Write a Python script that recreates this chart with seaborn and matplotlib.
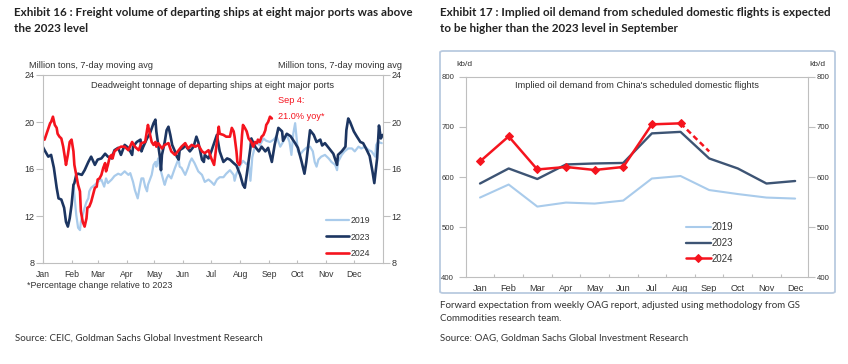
import matplotlib
matplotlib.use("Agg")
import matplotlib.pyplot as plt
import seaborn as sns
import pandas as pd
from matplotlib.patches import FancyBboxPatch

sns.set_theme(style="white")
plt.rcParams['font.family'] = ['Liberation Sans', 'DejaVu Sans']

# ---------------- Exhibit 16 data (day of year, million tons) ----------------
days_2019 = [33, 34, 36, 38, 40, 41, 43, 45, 47, 49, 50, 52, 56, 59, 63, 66, 68, 70, 74, 77,
             81, 84, 88, 92, 94, 97, 99, 102, 104, 106, 108, 110, 112, 113, 117, 119, 121, 122,
             124, 126, 128, 130, 131, 133, 135, 138, 142, 144, 146, 147, 149, 153, 156, 158,
             160, 163, 167, 171, 174, 178, 181, 184, 187, 190, 194, 197, 201, 205, 206, 208,
             212, 215, 219, 221, 223, 225, 228, 230, 233, 237, 240, 244, 248, 251, 255, 258,
             262, 265, 267, 269, 271, 273, 274, 276, 280, 283, 287, 290, 292, 294, 296, 299,
             303, 307, 310, 314, 316, 317, 321, 324, 328, 332, 335, 339, 342, 346, 350, 353,
             357, 358, 360, 364]
vals_2019 = [14.65, 13.8, 12.1, 11.0, 10.8, 11.5, 12.1, 12.7, 13.2, 13.5, 14.1, 14.4, 14.65,
             14.9, 15.1, 14.5, 15.2, 14.8, 15.1, 15.4, 15.6, 15.5, 15.8, 15.5, 15.65, 14.9,
             14.2, 13.5, 14.4, 15.2, 15.2, 14.5, 14.1, 14.65, 15.5, 16.35, 16.6, 16.2, 16.9,
             16.1, 15.5, 14.9, 14.65, 15.2, 15.5, 15.2, 16.1, 16.5, 16.9, 16.2, 16.1, 15.5,
             16.1, 16.6, 16.9, 16.5, 15.8, 15.5, 14.9, 15.1, 14.9, 14.65, 15.1, 15.3, 15.3,
             15.6, 15.9, 15.5, 15.0, 15.6, 16.3, 16.7, 16.4, 16.6, 15.0, 17.0, 18.0, 18.3,
             18.0, 18.6, 18.4, 18.3, 18.5, 18.8, 17.9, 18.3, 18.9, 18.3, 17.2, 19.0, 19.9,
             18.3, 17.5, 17.2, 17.6, 17.8, 17.9, 17.5, 16.6, 16.2, 16.8, 17.05, 17.2, 16.9,
             16.6, 16.35, 15.9, 16.6, 17.2, 17.5, 17.75, 17.75, 17.5, 17.9, 17.75, 17.9,
             17.6, 17.5, 17.05, 18.05, 18.3, 18.2]

days_2023 = [0, 2, 6, 9, 12, 15, 17, 20, 23, 25, 27, 29, 31, 33, 34, 36, 38, 42, 45, 49, 52,
             56, 59, 63, 67, 70, 74, 77, 81, 84, 88, 92, 96, 97, 101, 105, 106, 108, 112, 115,
             119, 121, 122, 124, 126, 127, 128, 131, 133, 135, 137, 139, 142, 144, 146, 147,
             151, 153, 155, 158, 162, 165, 167, 171, 173, 174, 178, 181, 187, 190, 194, 198,
             201, 205, 208, 212, 215, 217, 219, 223, 224, 228, 232, 235, 239, 242, 246, 249,
             253, 257, 258, 262, 266, 271, 274, 278, 281, 283, 287, 291, 294, 298, 300, 303,
             307, 310, 312, 316, 317, 321, 325, 326, 328, 330, 334, 337, 341, 344, 348, 351,
             354, 356, 359, 361, 363, 365]
vals_2023 = [17.9, 17.6, 17.05, 17.2, 16.1, 14.4, 13.5, 13.4, 12.7, 11.5, 11.1, 11.8, 12.95,
             14.65, 14.8, 15.5, 15.6, 15.5, 15.9, 16.6, 17.05, 16.35, 16.8, 16.9, 17.3, 17.05,
             16.9, 17.6, 17.8, 17.2, 18.05, 17.8, 17.2, 17.9, 18.3, 18.5, 17.5, 17.9, 18.6,
             19.0, 19.9, 20.2, 19.2, 18.05, 16.9, 15.9, 17.2, 18.3, 19.3, 19.6, 18.9, 18.05,
             17.5, 17.05, 16.8, 17.6, 17.8, 18.05, 17.8, 17.5, 17.9, 18.75, 18.3, 16.8, 16.6,
             17.2, 16.9, 17.5, 18.9, 17.5, 16.6, 16.9, 16.8, 16.5, 16.3, 15.5, 14.65, 14.4,
             15.5, 17.8, 18.6, 17.9, 17.5, 17.9, 17.5, 17.8, 16.6, 18.05, 19.5, 19.2, 18.4,
             19.0, 18.8, 18.2, 17.8, 16.6, 15.6, 16.6, 19.3, 18.9, 18.3, 18.5, 18.0, 18.2,
             17.8, 17.5, 17.3, 16.35, 17.2, 17.5, 17.9, 19.3, 20.3, 20.0, 19.2, 18.8, 18.3,
             18.2, 17.6, 17.1, 15.8, 14.8, 16.9, 19.7, 18.6, 18.9]

days_2024 = [0, 2, 5, 8, 9, 11, 13, 15, 16, 18, 20, 22, 24, 25, 27, 29, 31, 33, 34, 36, 38,
             40, 41, 43, 45, 47, 48, 50, 52, 54, 56, 58, 59, 61, 63, 65, 67, 68, 70, 72, 74,
             75, 77, 81, 84, 88, 92, 96, 99, 103, 106, 110, 112, 113, 115, 117, 119, 121, 122,
             124, 128, 131, 135, 138, 142, 146, 149, 153, 156, 160, 164, 167, 171, 174, 178,
             181, 184, 187, 189, 190, 194, 197, 201, 203, 205, 206, 208, 209, 211, 212, 214,
             215, 217, 219, 221, 222, 224, 226, 228, 230, 231, 233, 235, 237, 239, 240, 242,
             244, 246]
vals_2024 = [18.6, 18.5, 19.2, 19.9, 20.0, 20.45, 19.75, 19.5, 19.0, 18.75, 18.6, 17.9, 16.9,
             16.35, 17.2, 18.3, 18.5, 17.5, 16.35, 15.5, 14.65, 14.1, 12.4, 11.5, 11.1, 11.8,
             12.7, 12.8, 13.2, 13.8, 14.4, 14.5, 15.1, 15.2, 15.5, 16.1, 16.5, 15.8, 16.35,
             17.05, 17.2, 16.9, 17.5, 17.75, 17.9, 17.9, 17.6, 18.3, 17.9, 17.6, 18.2, 18.3,
             19.3, 19.75, 19.0, 18.3, 18.05, 18.3, 17.9, 18.2, 17.75, 18.05, 18.2, 17.5, 17.2,
             17.6, 17.9, 18.2, 17.75, 18.05, 17.9, 18.05, 17.5, 17.35, 17.6, 16.9, 16.35, 18.3,
             19.6, 19.0, 18.9, 18.75, 18.75, 19.5, 19.2, 18.75, 17.5, 16.6, 16.35, 16.5, 18.9,
             19.75, 19.5, 19.2, 18.6, 18.5, 18.3, 17.9, 18.3, 18.2, 18.5, 18.3, 18.75, 18.9,
             19.3, 19.75, 20.0, 20.45, 20.3]

month_start_days = [0, 31, 59, 90, 120, 151, 181, 212, 243, 273, 304, 334]
month_labels = ["Jan", "Feb", "Mar", "Apr", "May", "Jun", "Jul", "Aug", "Sep", "Oct", "Nov", "Dec"]
left_yticks = [8, 12, 16, 20, 24]

# ---------------- Exhibit 17 data (kb/d) ----------------
oil_2019 = [559, 585, 541, 549, 547, 553, 597, 602, 574, 566, 559, 557]
oil_2023 = [587, 617, 596, 625, 627, 628, 687, 690, 637, 617, 587, 592]
oil_2024 = [631, 681, 615, 620, 614, 620, 705, 707]
oil_2024_fcst = [707, 651]  # Aug actual -> Sep forward expectation
right_yticks = [400, 500, 600, 700, 800]

C19 = "#a9cbeb"
C23 = "#1c3561"
C23R = "#3d5474"
C24 = "#f5141e"
GRAY = "#bfbfbf"
TXT = "#333333"

W, H = 848, 364
fig = plt.figure(figsize=(W / 100, H / 100), dpi=100)
fig.patch.set_facecolor("white")

def fx(px):
    return px / W

def fy(py):
    return 1 - py / H

TITLE_FONT = ['Lato', 'Liberation Sans', 'DejaVu Sans']

# ---- titles ----
fig.text(fx(14), fy(6.5), "Exhibit 16 : Freight volume of departing ships at eight major ports was above\nthe 2023 level",
         ha="left", va="top", fontsize=8.35, fontweight="bold", family=TITLE_FONT, color="#222222", linespacing=1.6)
fig.text(fx(440), fy(6.5), "Exhibit 17 : Implied oil demand from scheduled domestic flights is expected\nto be higher than the 2023 level in September",
         ha="left", va="top", fontsize=8.35, fontweight="bold", family=TITLE_FONT, color="#222222", linespacing=1.6)

# ================= Left chart =================
axL = fig.add_axes([fx(42.7), fy(263), fx(382.7 - 42.7), (263 - 75) / H])
df19 = pd.DataFrame({"day": days_2019, "val": vals_2019})
df23 = pd.DataFrame({"day": days_2023, "val": vals_2023})
df24 = pd.DataFrame({"day": days_2024, "val": vals_2024})
sns.lineplot(data=df19, x="day", y="val", ax=axL, color=C19, lw=1.6, label="2019")
sns.lineplot(data=df23, x="day", y="val", ax=axL, color=C23, lw=1.9, label="2023")
sns.lineplot(data=df24, x="day", y="val", ax=axL, color=C24, lw=1.9, label="2024")
axL.set_xlim(0, 365)
axL.set_ylim(8, 24)
axL.set_xlabel("")
axL.set_ylabel("")
axL.set_xticks(month_start_days)
axL.set_xticklabels(month_labels)
axL.set_yticks(left_yticks)
for s in axL.spines.values():
    s.set_color(GRAY)
    s.set_linewidth(0.8)
axL.tick_params(axis="y", direction="out", length=4.8, width=0.8, color=GRAY, labelsize=6.5, labelcolor=TXT, pad=1, left=True)
axL.tick_params(axis="x", direction="in", length=2, width=0.8, color=GRAY, labelsize=6.2, labelcolor=TXT, pad=5, bottom=True)
axRt = axL.twinx()
axRt.set_ylim(8, 24)
axRt.set_yticks(left_yticks)
for s in axRt.spines.values():
    s.set_visible(False)
axRt.tick_params(axis="y", direction="out", length=4.8, width=0.8, color=GRAY, labelsize=6.5, labelcolor=TXT, pad=1.5, right=True)
axRt.grid(False)

axL.legend(loc="lower right", bbox_to_anchor=(0.985, -0.015), frameon=False, fontsize=6.3,
           handlelength=2.7, handletextpad=0.1, labelspacing=0.85, labelcolor=TXT)
axL.text(0.5, 0.945, "Deadweight tonnage of departing ships at eight major ports", transform=axL.transAxes,
         ha="center", va="center", fontsize=6.7, color=TXT)
axL.text(0.693, 0.822, "Sep 4:\n21.0% yoy*", transform=axL.transAxes, ha="left", va="center",
         fontsize=6.6, color=C24, linespacing=1.9)
fig.text(fx(29), fy(66), "Million tons, 7-day moving avg", ha="left", va="center", fontsize=6.6, color=TXT)
fig.text(fx(402), fy(66), "Million tons, 7-day moving avg", ha="right", va="center", fontsize=6.6, color=TXT)
fig.text(fx(27), fy(285), "*Percentage change relative to 2023", ha="left", va="center", fontsize=6.4, color=TXT)
fig.text(fx(15), fy(338), "Source: CEIC, Goldman Sachs Global Investment Research", ha="left", va="center",
         fontsize=7.0, family=TITLE_FONT, color="#333333")

# ================= Right chart =================
frame = FancyBboxPatch((fx(440), fy(293)), fx(835 - 440), (293 - 51) / H,
                       boxstyle="round,pad=0,rounding_size=0.004", transform=fig.transFigure,
                       fill=False, edgecolor="#b9cadf", linewidth=1.3)
fig.patches.append(frame)

axR = fig.add_axes([fx(465.7), fy(277.3), fx(808 - 465.7), (277.3 - 76.7) / H])
dfo19 = pd.DataFrame({"m": range(len(oil_2019)), "val": oil_2019})
dfo23 = pd.DataFrame({"m": range(len(oil_2023)), "val": oil_2023})
dfo24 = pd.DataFrame({"m": range(len(oil_2024)), "val": oil_2024})
dfo24f = pd.DataFrame({"m": [len(oil_2024) - 1, len(oil_2024)], "val": oil_2024_fcst})
sns.lineplot(data=dfo19, x="m", y="val", ax=axR, color=C19, lw=1.5, label="2019")
sns.lineplot(data=dfo23, x="m", y="val", ax=axR, color=C23R, lw=1.7, label="2023")
sns.lineplot(data=dfo24, x="m", y="val", ax=axR, color=C24, lw=1.8, marker="D", markersize=4,
             markeredgecolor=C24, label="2024")
sns.lineplot(data=dfo24f, x="m", y="val", ax=axR, color=C24, lw=1.8, linestyle=(0, (2.2, 1.4)),
             legend=False)
axR.set_xlim(-0.5, 11.45)
axR.set_ylim(400, 800)
axR.set_xlabel("")
axR.set_ylabel("")
axR.set_xticks(range(12))
axR.set_xticklabels(month_labels)
axR.set_xticks([i + 0.5 for i in range(11)], minor=True)
axR.set_yticks(right_yticks)
for s in axR.spines.values():
    s.set_color(GRAY)
    s.set_linewidth(0.8)
axR.tick_params(axis="y", direction="out", length=4.8, width=0.8, color=GRAY, labelsize=5.6, labelcolor=TXT, pad=3.5, left=True)
axR.tick_params(axis="x", which="major", length=0, labelsize=6.6, labelcolor=TXT, pad=5)
axR.tick_params(axis="x", which="minor", direction="in", length=2, width=0.8, color=GRAY, bottom=True)
axR2 = axR.twinx()
axR2.set_ylim(400, 800)
axR2.set_yticks(right_yticks)
for s in axR2.spines.values():
    s.set_visible(False)
axR2.tick_params(axis="y", direction="out", length=4.8, width=0.8, color=GRAY, labelsize=5.6, labelcolor=TXT, pad=1.5, right=True)
axR2.grid(False)

axR.legend(loc="lower left", bbox_to_anchor=(0.618, 0.025), frameon=False, fontsize=6.9,
           handlelength=2.6, handletextpad=0.1, labelspacing=0.6, labelcolor=TXT)
axR.text(0.5, 0.955, "Implied oil demand from China's scheduled domestic flights", transform=axR.transAxes,
         ha="center", va="center", fontsize=6.7, color=TXT)
fig.text(fx(456), fy(64), "kb/d", ha="left", va="center", fontsize=6.0, color=TXT)
fig.text(fx(826), fy(64), "kb/d", ha="right", va="center", fontsize=6.0, color=TXT)
fig.text(fx(440), fy(301), "Forward expectation from weekly OAG report, adjusted using methodology from GS\nCommodities research team.",
         ha="left", va="top", fontsize=7.0, family=TITLE_FONT, color="#333333", linespacing=1.55)
fig.text(fx(440), fy(338), "Source: OAG, Goldman Sachs Global Investment Research", ha="left", va="center",
         fontsize=7.0, family=TITLE_FONT, color="#333333")

fig.savefig("out.png", dpi=100, facecolor="white")
